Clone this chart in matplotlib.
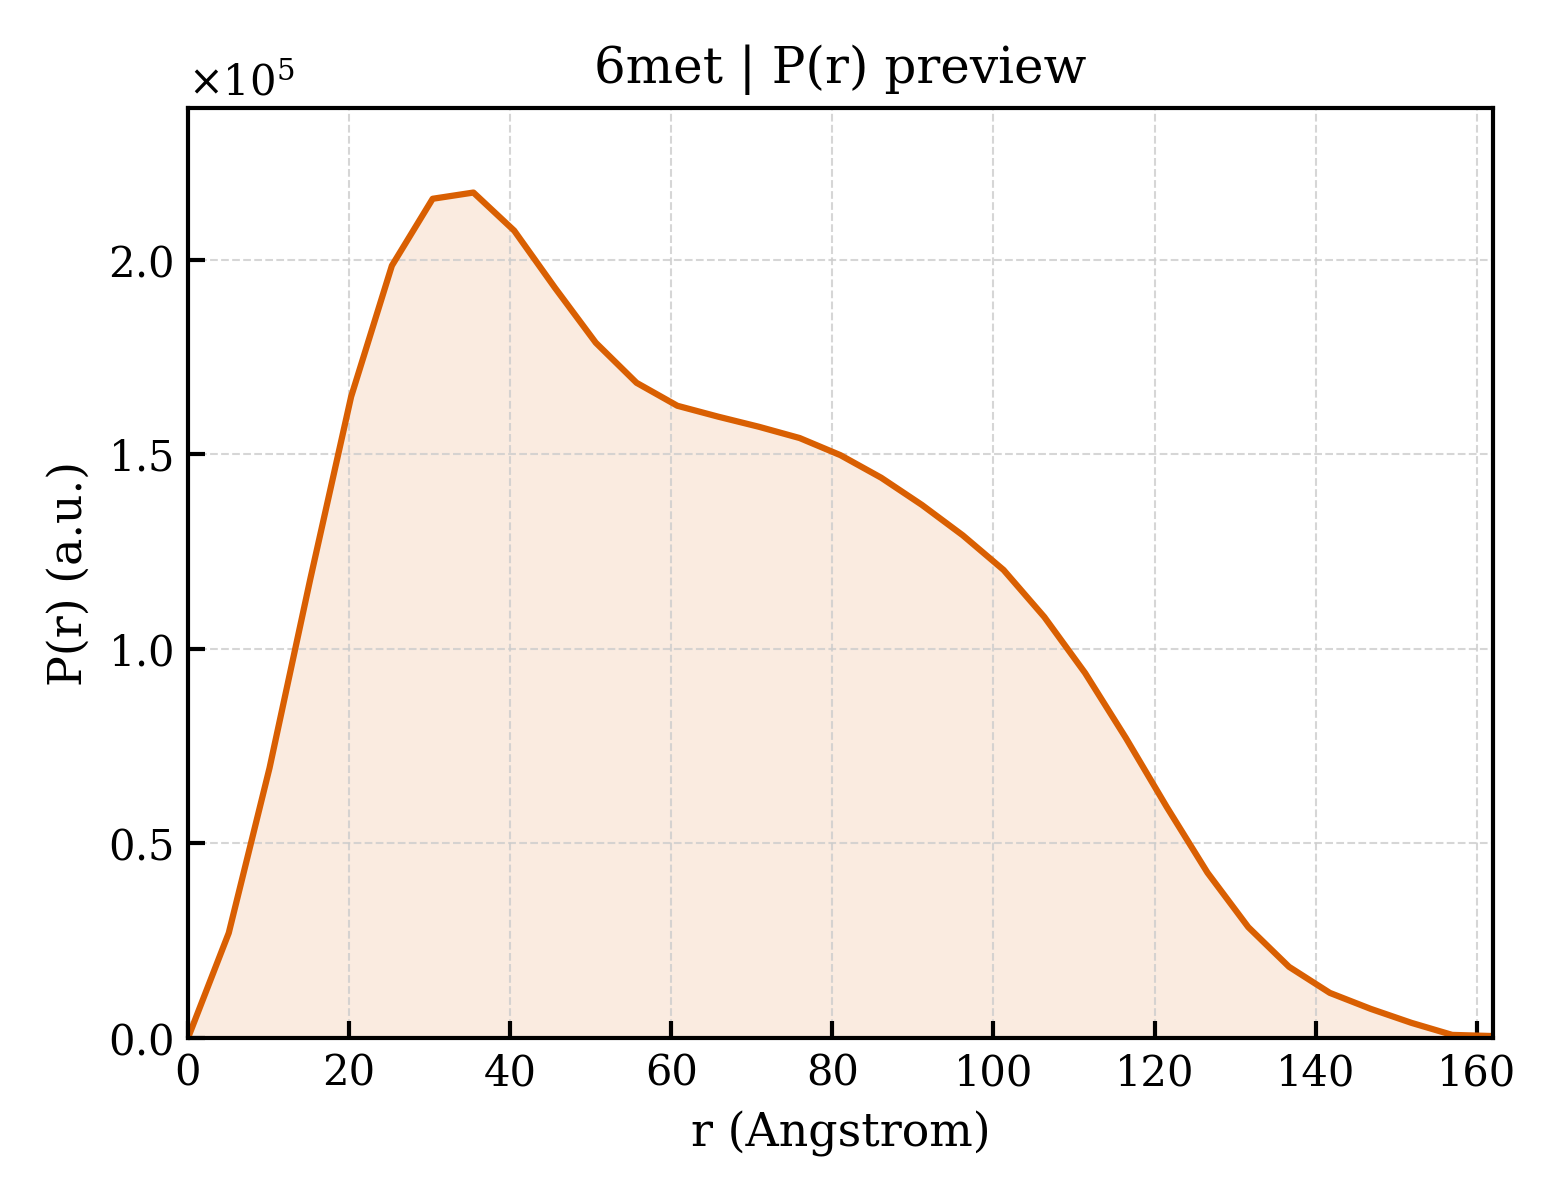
import numpy as np
import matplotlib
matplotlib.use("Agg")
import matplotlib.pyplot as plt

plt.rcParams['font.family'] = ['DejaVu Serif']
plt.rcParams['mathtext.fontset'] = 'dejavuserif'

r_max = 162.0
n_points = 33
pr_values = [0.0, 0.27, 0.694, 1.18, 1.648, 1.985, 2.157, 2.173, 2.075, 1.928,
             1.787, 1.684, 1.625, 1.597, 1.571, 1.542, 1.498, 1.440, 1.370, 1.292,
             1.203, 1.082, 0.938, 0.771, 0.594, 0.425, 0.285, 0.183, 0.116, 0.075,
             0.039, 0.008, 0.005]
scale = 1e5

r = np.linspace(0, r_max, n_points)
pr = np.array(pr_values) * scale

fig = plt.figure(figsize=(5.2, 4.0), dpi=300)
ax = fig.add_axes([0.1205, 0.135, 0.8365, 0.775])

color = '#D95F02'
ax.fill_between(r, 0, pr, color=color, alpha=0.12, linewidth=0)
ax.plot(r, pr, color=color, linewidth=1.5)

ax.set_xlim(0, r_max)
ax.set_ylim(0, pr.max() * 1.1)
ax.set_xticks(np.arange(0, 161, 20))
ax.set_yticks(np.arange(0, 2.01e5, 0.5e5))
ax.ticklabel_format(axis='y', style='sci', scilimits=(0, 0), useMathText=True)
ax.yaxis.get_offset_text().set_fontsize(10)

ax.grid(True, linestyle='--', linewidth=0.5, color='#cccccc', alpha=0.8)
ax.tick_params(direction='in', length=4, width=1.0, labelsize=10, top=False, right=False)
for s in ax.spines.values():
    s.set_linewidth(1.0)

ax.set_xlabel('r (Angstrom)', fontsize=11)
ax.set_ylabel('P(r) (a.u.)', fontsize=11)
ax.set_title('6met | P(r) preview', fontsize=12)

fig.savefig('out.png', dpi=300)
